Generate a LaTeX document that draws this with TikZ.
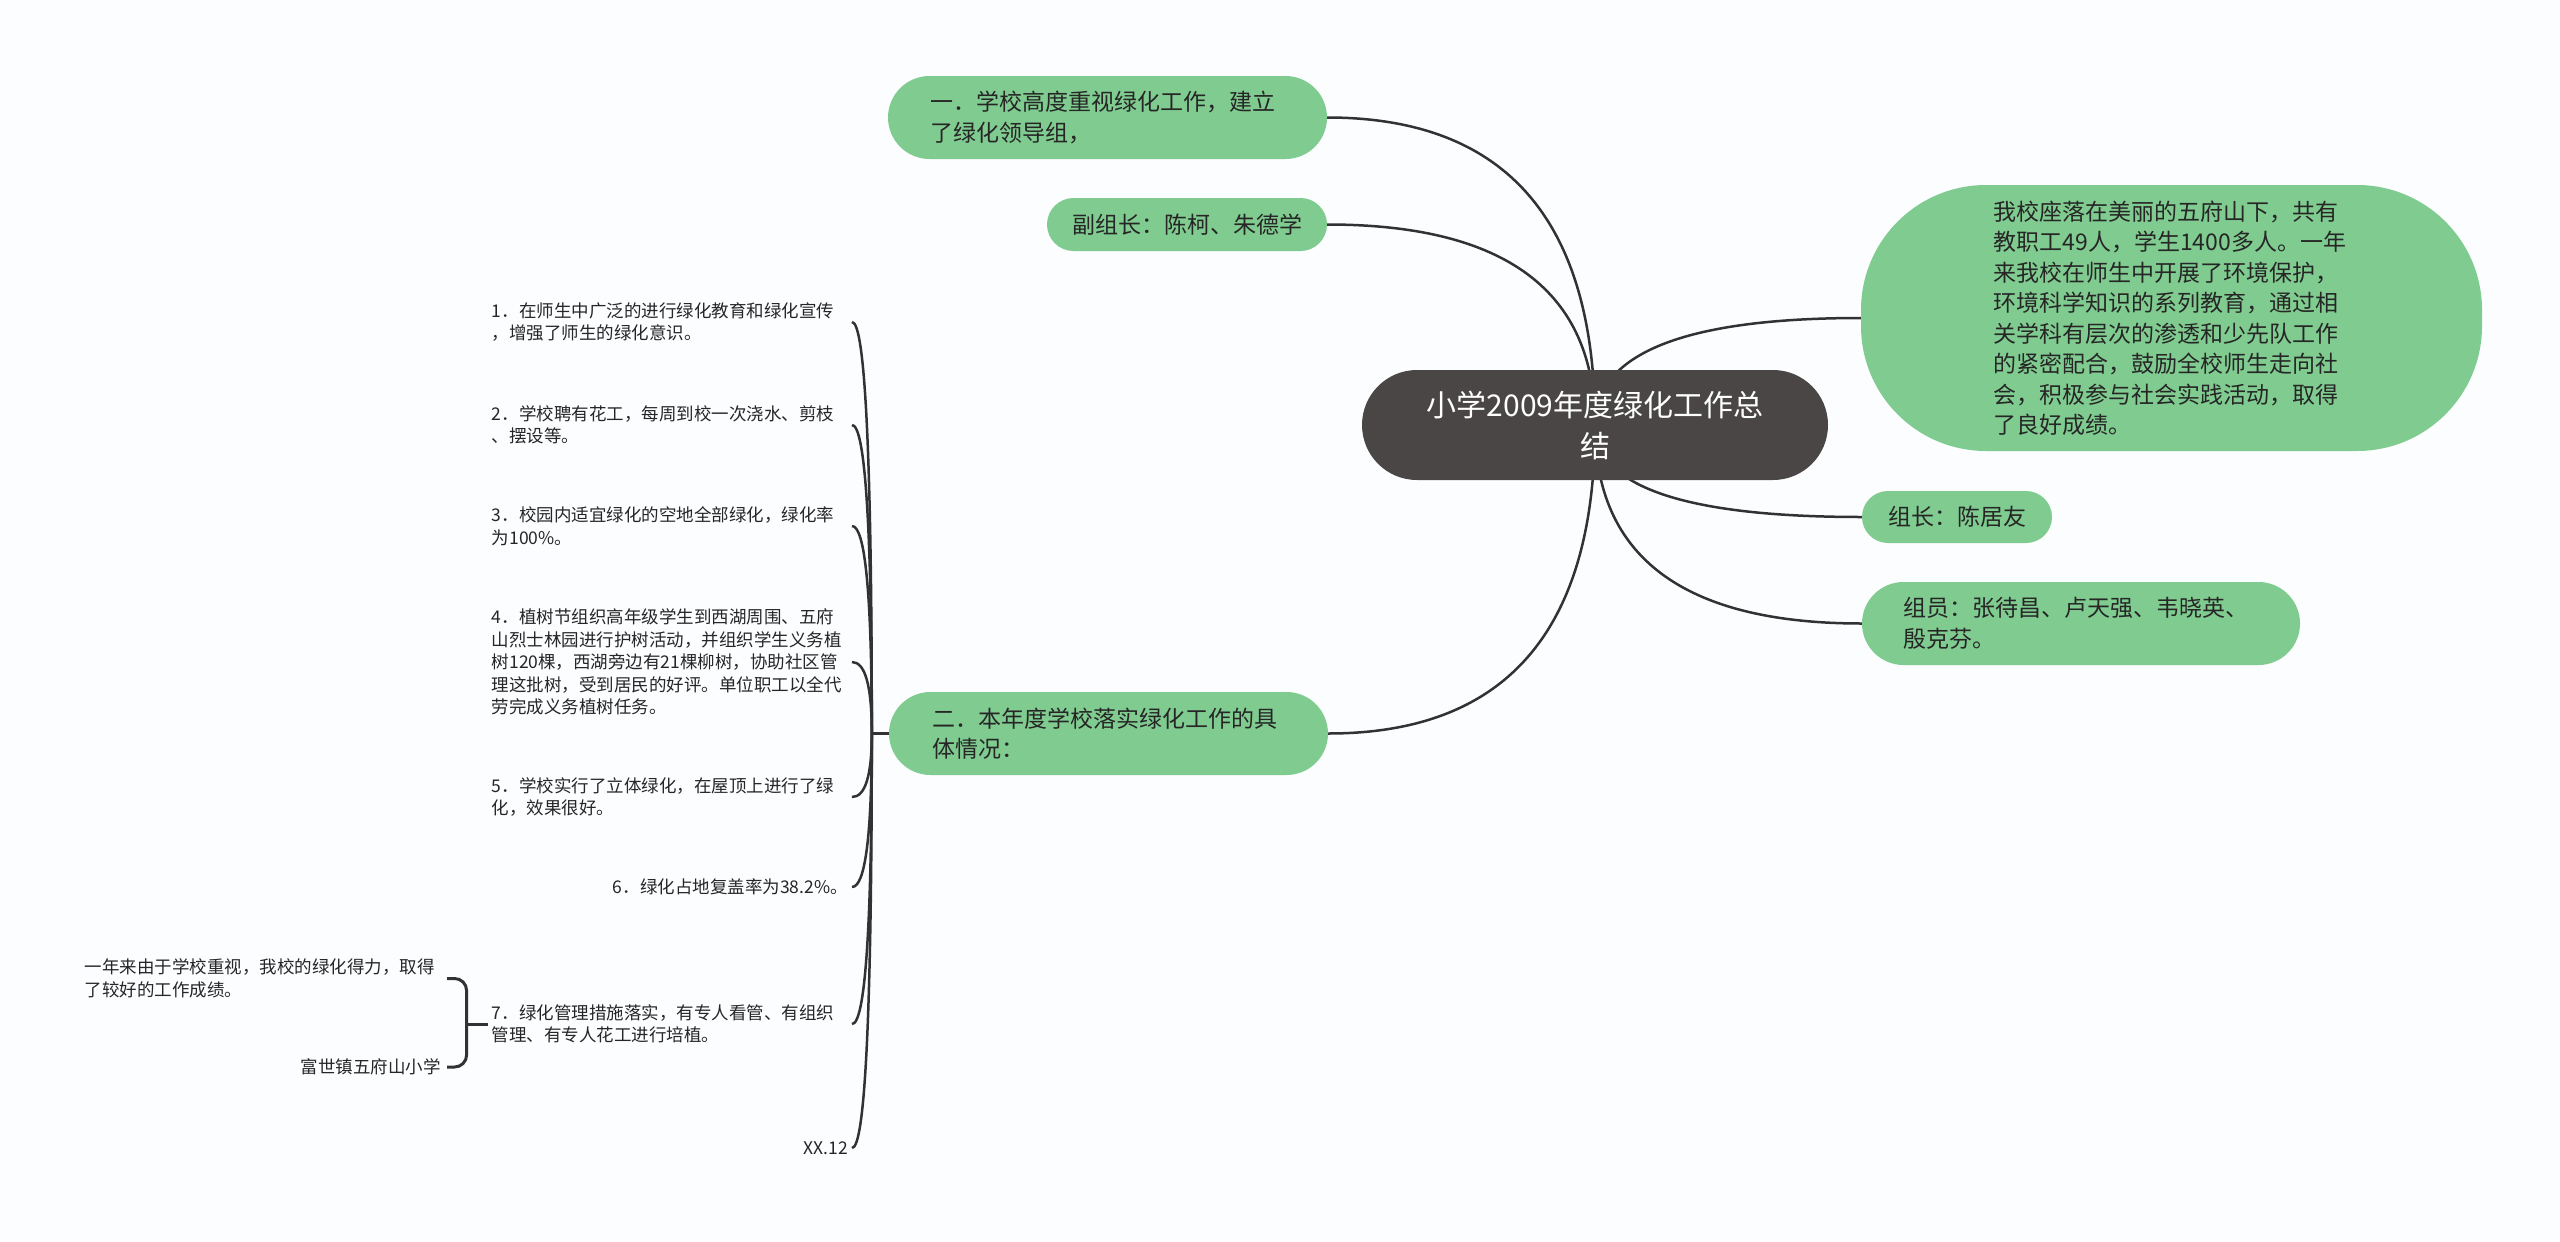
\documentclass[tikz,border=0pt]{standalone}
\usepackage{fontspec}
\newfontfamily\cjk{Noto Sans CJK SC}
\usetikzlibrary{calc}
\pgfdeclarelayer{bg}
\pgfdeclarelayer{lines}
\pgfsetlayers{bg,lines,main}
\definecolor{bgc}{RGB}{251,253,255}
\definecolor{gfill}{RGB}{128,204,144}
\definecolor{rootc}{RGB}{74,70,70}
\definecolor{linec}{RGB}{50,50,50}
\definecolor{txt}{RGB}{38,38,38}
\begin{document}
\begin{tikzpicture}[x=1pt,y=-1pt,
  gnode/.style={fill=gfill, text=txt, font=\cjk\fontsize{23}{30.5}\selectfont, inner ysep=0pt},
  rootnode/.style={fill=rootc, text=white, font=\cjk\fontsize{30}{41}\selectfont, align=center, minimum width=466, minimum height=110, rounded corners=55},
  leaf/.style={text=txt, font=\cjk\fontsize{17.5}{22.5}\selectfont, inner xsep=4pt, inner ysep=2pt, anchor=east},
  leafw/.style={leaf, text width=356pt, align=left},
  conn/.style={draw=linec, line width=2.5pt},
]
\useasboundingbox (0,0) rectangle (2560,1242);
\begin{pgfonlayer}{bg}
\fill[bgc] (0,0) rectangle (2560,1242);
\end{pgfonlayer}

% root
\node[rootnode] (root) at (1595,425) {小学2009年度绿化工作总\\结};

% left green nodes
\node[gnode, minimum width=439, minimum height=83, rounded corners=41.5, inner xsep=42pt, text width=355pt, align=left] (n1) at (1107.5,117.5)
  {一．学校高度重视绿化工作，建立\\了绿化领导组，};
\node[gnode, minimum width=280, minimum height=53, rounded corners=26.5] (vice) at (1187,224.5)
  {副组长：陈柯、朱德学};
\node[gnode, minimum width=439, minimum height=83, rounded corners=41.5, inner xsep=43pt, text width=353pt, align=left] (n2) at (1108.5,733.5)
  {二．本年度学校落实绿化工作的具\\体情况：};

% right green nodes
\node[gnode, minimum width=621, minimum height=266, rounded corners=125, inner xsep=132.5pt, text width=356pt, align=left] (big) at (2171.5,318)
  {我校座落在美丽的五府山下，共有\\教职工49人，学生1400多人。一年\\来我校在师生中开展了环境保护，\\环境科学知识的系列教育，通过相\\关学科有层次的渗透和少先队工作\\的紧密配合，鼓励全校师生走向社\\会，积极参与社会实践活动，取得\\了良好成绩。};
\node[gnode, minimum width=190, minimum height=52, rounded corners=26] (leader) at (1957,517)
  {组长：陈居友};
\node[gnode, minimum width=438, minimum height=83, rounded corners=41.5, inner xsep=41pt, text width=356pt, align=left] (members) at (2081,623.5)
  {组员：张待昌、卢天强、韦晓英、\\殷克芬。};

% leaves of n2
\node[leafw] (i1) at (852,322) {1．在师生中广泛的进行绿化教育和绿化宣传\\，增强了师生的绿化意识。};
\node[leafw] (i2) at (852,425) {2．学校聘有花工，每周到校一次浇水、剪枝\\、摆设等。};
\node[leafw] (i3) at (852,526) {3．校园内适宜绿化的空地全部绿化，绿化率\\为100\%。};
\node[leafw] (i4) at (852,662) {4．植树节组织高年级学生到西湖周围、五府\\山烈士林园进行护树活动，并组织学生义务植\\树120棵，西湖旁边有21棵柳树，协助社区管\\理这批树，受到居民的好评。单位职工以全代\\劳完成义务植树任务。};
\node[leafw] (i5) at (852,797) {5．学校实行了立体绿化，在屋顶上进行了绿\\化，效果很好。};
\node[leaf] (i6) at (852,887) {6．绿化占地复盖率为38.2\%。};
\node[leafw] (i7) at (852,1024) {7．绿化管理措施落实，有专人看管、有组织\\管理、有专人花工进行培植。};
\node[leaf] (i8) at (852,1148) {XX.12};

% children of item 7
\node[leafw, inner xsep=6pt] (c7a) at (447,978.5) {一年来由于学校重视，我校的绿化得力，取得\\了较好的工作成绩。};
\node[leaf, inner xsep=6pt] (c7b) at (447,1067) {富世镇五府山小学};

\begin{pgfonlayer}{lines}
% root connectors (quadratic curves)
\foreach \t in {n1,vice,n2}{
  \coordinate (k) at (root.center |- \t.east);
  \draw[conn] (root.center) .. controls ($(root.center)!0.6667!(k)$) and ($(\t.east)!0.6667!(k)$) .. (\t.east);
}
\foreach \t in {big,leader,members}{
  \coordinate (k) at (root.center |- \t.west);
  \draw[conn] (root.center) .. controls ($(root.center)!0.6667!(k)$) and ($(\t.west)!0.6667!(k)$) .. (\t.west);
}
% spine of n2
\coordinate (sp) at ($(n2.west)+(-17,0)$);
\draw[conn] (n2.west) -- (sp);
\foreach \t in {i1,i2,i3,i4,i5,i6,i7,i8}{
  \coordinate (k) at (sp |- \t.east);
  \draw[conn] (sp) .. controls ($(sp)!0.6667!(k)$) and ($(\t.east)!0.6667!(k)$) .. (\t.east);
}
% bracket of item 7
\coordinate (b7) at ($(i7.west)+(-21,0)$);
\draw[conn, line width=3pt] (i7.west) -- (b7);
\draw[conn, line width=3pt, rounded corners=12] (c7a.east) -| (b7) |- (c7b.east);
\end{pgfonlayer}
\end{tikzpicture}
\end{document}
